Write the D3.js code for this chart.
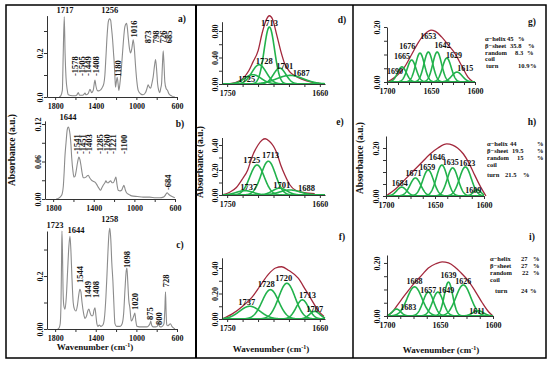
<!DOCTYPE html>
<html>
<head>
<meta charset="utf-8">
<script src="https://cdn.jsdelivr.net/npm/d3@7/dist/d3.min.js"></script>
<style>
  body { margin: 0; background: #fff; }
  svg { display: block; }
</style>
</head>
<body>
<div id="fig"></div>
<script>
const FONT = '"Liberation Serif", "Times New Roman", serif';
const GREY = "#8c8c8c", GREEN = "#22b24c", RED = "#a3283c", INK = "#111";

// full spectra, [wavenumber, absorbance]
const specA = [[1760,0],[1745,0.005],[1729,0.03],[1720,0.2],[1710,0.365],[1702,0.2],[1693,0.09],[1680,0.03],[1670,0.01],[1630,0.006],[1600,0.006],[1585,0.01],[1572,0.02],[1560,0.008],[1530,0.008],[1515,0.013],[1506,0.018],[1495,0.01],[1475,0.015],[1457,0.035],[1440,0.02],[1425,0.03],[1415,0.06],[1408,0.077],[1398,0.05],[1385,0.03],[1370,0.028],[1359,0.03],[1340,0.04],[1320,0.062],[1310,0.1],[1300,0.18],[1288,0.28],[1277,0.34],[1265,0.355],[1254,0.35],[1244,0.31],[1234,0.26],[1225,0.2],[1218,0.155],[1210,0.08],[1205,0.045],[1197,0.07],[1189,0.09],[1180,0.06],[1172,0.03],[1160,0.07],[1146,0.14],[1130,0.24],[1113,0.32],[1096,0.335],[1088,0.31],[1080,0.27],[1068,0.22],[1057,0.2],[1045,0.22],[1031,0.26],[1020,0.22],[1008,0.14],[995,0.07],[982,0.03],[960,0.015],[933,0.01],[910,0.02],[895,0.04],[884,0.055],[872,0.045],[860,0.04],[848,0.06],[835,0.09],[822,0.14],[811,0.17],[800,0.12],[791,0.06],[780,0.03],[769,0.02],[760,0.04],[752,0.06],[744,0.14],[736,0.21],[728,0.15],[720,0.07],[708,0.04],[693,0.03],[680,0.015],[670,0.01],[650,0.004],[621,0]];

const specB = [[1770,0],[1749,0.001],[1716,0.006],[1700,0.02],[1693,0.038],[1683,0.07],[1673,0.09],[1660,0.112],[1651,0.115],[1642,0.112],[1634,0.104],[1625,0.088],[1617,0.066],[1605,0.045],[1595,0.035],[1585,0.036],[1575,0.043],[1560,0.058],[1546,0.067],[1536,0.063],[1526,0.054],[1515,0.042],[1503,0.034],[1490,0.034],[1477,0.035],[1465,0.037],[1454,0.038],[1440,0.034],[1421,0.03],[1400,0.028],[1388,0.027],[1370,0.023],[1356,0.019],[1340,0.015],[1332,0.014],[1320,0.018],[1307,0.022],[1290,0.026],[1280,0.029],[1268,0.026],[1257,0.026],[1245,0.028],[1234,0.029],[1220,0.026],[1208,0.026],[1195,0.03],[1182,0.035],[1170,0.022],[1159,0.014],[1140,0.013],[1126,0.014],[1115,0.018],[1103,0.022],[1090,0.015],[1077,0.01],[1050,0.007],[1027,0.005],[970,0.004],[913,0.003],[850,0.003],[790,0.002],[750,0.002],[715,0.003],[700,0.005],[688,0.008],[677,0.01],[665,0.008],[651,0.006],[630,0.004],[602,0.002]];

const specC = [[1775,0],[1760,0.005],[1750,0.02],[1742,0.1],[1737,0.25],[1733,0.37],[1728,0.3],[1722,0.15],[1715,0.09],[1703,0.075],[1690,0.12],[1677,0.22],[1665,0.31],[1654,0.35],[1645,0.3],[1635,0.2],[1622,0.1],[1610,0.075],[1595,0.068],[1580,0.09],[1567,0.13],[1556,0.15],[1546,0.14],[1535,0.1],[1520,0.06],[1506,0.04],[1490,0.05],[1477,0.07],[1467,0.075],[1455,0.06],[1440,0.05],[1428,0.05],[1418,0.07],[1408,0.08],[1398,0.05],[1389,0.02],[1379,0.01],[1365,0.015],[1350,0.01],[1330,0.015],[1315,0.04],[1300,0.12],[1290,0.2],[1280,0.29],[1270,0.36],[1261,0.38],[1252,0.34],[1242,0.25],[1231,0.18],[1222,0.1],[1211,0.02],[1195,0.01],[1160,0.01],[1140,0.02],[1125,0.06],[1112,0.15],[1100,0.22],[1093,0.23],[1085,0.18],[1075,0.11],[1064,0.08],[1050,0.03],[1040,0.035],[1025,0.05],[1015,0.06],[1005,0.03],[995,0.01],[970,0.008],[930,0.008],[900,0.008],[880,0.012],[867,0.02],[858,0.03],[850,0.015],[835,0.008],[810,0.008],[795,0.01],[780,0.02],[772,0.01],[760,0.008],[740,0.012],[728,0.02],[720,0.07],[713,0.14],[707,0.06],[700,0.015],[690,0.012],[680,0.015],[665,0.02],[650,0.01],[635,0.004],[620,0]];

// peak labels: [text, wavenumber, absorbance at the text foot]
const peaksA = [["1717",1703,0.382],["1256",1261,0.382]];
const tagsA = [["-1578",1605,0.095],["-1505",1539,0.095],["-1449",1474,0.095],["-1408",1398,0.095],["1180",1179,0.092],["1016",1025,0.27],["873",884,0.244],["798",811,0.244],["726",742,0.244],["685",677,0.244]];
const peaksB = [["1644",1654,0.126]];
const tagsB = [["-1541",1565,0.072],["-1451",1506,0.072],["-1403",1447,0.072],["-1285",1335,0.072],["-1260",1272,0.072],["-1221",1213,0.072],["-1100",1103,0.072],["-684",671,0.0144]];
const peaksC = [["1723",1801,0.381],["1644",1595,0.362],["1258",1261,0.404]];
const tagsC = [["1544",1556,0.174],["1449",1477,0.117],["1408",1398,0.117],["1098",1093,0.23],["1020",1015,0.072],["875",867,0.034],["800",779,0.015],["728",710,0.158]];

// fitted bands: [centre, height, width]; measured envelopes: [wavenumber, absorbance]
const bandsD = [[1725,0.14,8],[1719,0.29,7],[1709,0.86,5],[1699,0.24,6],[1689,0.13,13]];
const envD = [[1750,0],[1742,0.02],[1735,0.08],[1729,0.2],[1725,0.33],[1720,0.5],[1716,0.77],[1712,0.97],[1709,1.03],[1706,0.98],[1702,0.75],[1698,0.5],[1694,0.3],[1689,0.18],[1684,0.12],[1677,0.07],[1668,0.03],[1660,0.01]];
const peaksD = [["1713",1709,0.88],["1728",1714,0.3],["1701",1694,0.226],["1687",1678,0.12],["1725",1731,0.03]];

const bandsE = [[1733,0.035,8],[1721,0.24,7],[1710,0.27,7],[1699,0.055,7],[1689,0.04,10]];
const envE = [[1755,0],[1748,0.02],[1741,0.06],[1735,0.13],[1730,0.2],[1726,0.3],[1720,0.4],[1716,0.44],[1713,0.45],[1709,0.43],[1705,0.39],[1702,0.34],[1698,0.24],[1694,0.16],[1689,0.08],[1684,0.04],[1676,0.02],[1665,0.01]];
const peaksE = [["1725",1726,0.256],["1713",1708,0.296],["1737",1729,0.04],["1701",1697,0.056],["1688",1673,0.032]];

const bandsF = [[1728,0.10,10],[1708,0.23,8],[1692,0.28,8],[1677,0.15,6],[1665,0.06,5]];
const envF = [[1755,0],[1745,0.04],[1735,0.1],[1726,0.17],[1718,0.26],[1710,0.35],[1703,0.4],[1697,0.41],[1690,0.38],[1681,0.32],[1674,0.23],[1668,0.15],[1662,0.07],[1656,0.02]];
const peaksF = [["1737",1731,0.11],["1728",1712,0.251],["1720",1695,0.298],["1713",1672,0.165],["1707",1665,0.055]];

const bandsG = [[1683,0.055,5],[1672,0.08,5],[1662.5,0.105,5],[1653,0.109,5],[1643,0.109,5],[1632,0.087,5],[1620.5,0.036,6]];
const envG = [[1700,0],[1692,0.015],[1685,0.035],[1680,0.055],[1672,0.1],[1666,0.135],[1660,0.164],[1655,0.18],[1650,0.189],[1645,0.184],[1638,0.164],[1630,0.133],[1623,0.105],[1615,0.058],[1608,0.018],[1602,0]];
const peaksG = [["1653",1653,0.155],["1676",1677,0.12],["1642",1637,0.122],["1665",1683,0.085],["1629",1624,0.088],["1690",1691,0.029],["1615",1611,0.04]];

const bandsH = [[1684,0.037,5],[1670,0.075,5.5],[1657,0.108,5.5],[1643,0.129,5.5],[1632,0.117,5.5],[1619,0.121,6],[1607,0.025,4]];
const envH = [[1700,0],[1690,0.03],[1681,0.067],[1672,0.105],[1663,0.142],[1655,0.175],[1647,0.2],[1638,0.217],[1632,0.212],[1627,0.2],[1621,0.175],[1616,0.142],[1611,0.1],[1606,0.058],[1601,0.02],[1598,0]];
const peaksH = [["1646",1648,0.15],["1635",1634,0.129],["1623",1617,0.125],["1659",1658,0.108],["1671",1672,0.083],["1684",1686,0.042],["1609",1611,0.0125]];

const bandsI = [[1691,0.026,4],[1674,0.11,7],[1661,0.09,5],[1652,0.09,5],[1642,0.128,4],[1628,0.117,7],[1614,0.02,5]];
const envI = [[1700,0],[1695,0.015],[1690,0.042],[1682,0.085],[1674,0.125],[1667,0.155],[1661,0.181],[1654,0.197],[1648,0.204],[1642,0.2],[1636,0.185],[1630,0.162],[1624,0.136],[1617,0.095],[1610,0.049],[1604,0.015],[1600,0]];
const peaksI = [["1668",1674,0.121],["1657",1661,0.087],["1649",1644,0.087],["1639",1642,0.145],["1626",1628,0.121],["1683",1680,0.023],["1611",1615,0.008]];

// secondary structure (%)
const structG = [["α−helix","45"],["β−sheet","35.8"],["random","8.3"],["coil",""],["turn","10.9"]];
const structH = [["α−helix","44"],["β−sheet","19.5"],["random","15"],["coil",""],["turn","21.5"]];
const structI = [["α−helix","27"],["β−sheet","27"],["random","22"],["coil",""],["turn","24"]];

// ticks
const xTicksWide = [1800,1600,1400,1200,1000,800,600];
const xLabelsWide = [1800,1400,1000,600];
const xTicksAmide = [1750,1735,1720,1705,1690,1675,1660];
const xLabelsAmide = [1750,1660];
const xTicksAmideI = [1700,1687.5,1675,1662.5,1650,1637.5,1625,1612.5,1600];
const xLabelsAmideI = [1700,1650,1600];

const svg = d3.select("#fig").append("svg")
  .attr("width", 550).attr("height", 365)
  .style("font-family", FONT).style("font-weight", "bold");

svg.append("rect").attr("x", 6).attr("y", 5).attr("width", 540).attr("height", 353)
  .attr("fill", "none").attr("stroke", "#000").attr("stroke-width", 1.5);
svg.append("line").attr("x1", 196).attr("x2", 196).attr("y1", 5).attr("y2", 358)
  .attr("stroke", "#000").attr("stroke-width", 2);
svg.append("line").attr("x1", 353).attr("x2", 353).attr("y1", 5).attr("y2", 358)
  .attr("stroke", "#000").attr("stroke-width", 1.5);

function styleAxis(sel) {
  sel.attr("font-family", null).attr("font-size", 8);
  sel.select(".domain").attr("stroke", "#333");
  sel.selectAll(".tick line").attr("stroke", "#333");
  sel.selectAll(".tick text").attr("fill", INK);
}

function drawPanel(p) {
  const x = d3.scaleLinear().domain(p.xd).range(p.xr);
  const y = d3.scaleLinear().domain(p.yd).range(p.yr);
  const g = svg.append("g");

  const line = d3.line().x(d => x(d[0])).y(d => y(d[1]));

  if (p.spec) {
    g.append("path").datum(p.spec)
      .attr("d", line.curve(d3.curveMonotoneX))
      .attr("fill", "none").attr("stroke", GREY).attr("stroke-width", 1.1);
  }
  if (p.env) {
    g.append("path").datum(p.env)
      .attr("d", line.curve(d3.curveMonotoneX))
      .attr("fill", "none").attr("stroke", RED).attr("stroke-width", 1.3);
  }
  if (p.bands) {
    const lo = Math.min(...p.xd), hi = Math.max(...p.xd);
    const lin = d3.line().x(d => x(d[0])).y(d => y(d[1]));
    p.bands.forEach(([c, h, s]) => {
      const pts = d3.range(lo, hi + 0.001, 0.25)
        .map(w => [w, h * Math.exp(-0.5 * ((w - c) / s) ** 2)]);
      g.append("path").datum(pts).attr("d", lin)
        .attr("fill", "none").attr("stroke", GREEN).attr("stroke-width", 1.6);
    });
  }

  g.append("g").attr("transform", `translate(0,${p.yr[0]})`)
    .call(d3.axisBottom(x).tickValues(p.xTicks).tickSize(3).tickSizeOuter(0)
      .tickFormat(d => p.xLabels.includes(d) ? d : ""))
    .call(styleAxis);

  const ya = g.append("g").attr("transform", `translate(${p.xr[0]},0)`)
    .call(d3.axisLeft(y).tickValues(p.yTicks).tickSize(3).tickSizeOuter(0)
      .tickFormat(d => {
        const i = p.yLabels.findIndex(v => Math.abs(v - d) < 1e-9);
        return i < 0 ? "" : p.yText[i];
      }))
    .call(styleAxis);
  ya.selectAll(".tick text")
    .attr("x", 0).attr("dy", "0.35em").attr("text-anchor", "middle")
    .attr("transform", `translate(${-p.yOff},0) rotate(-90)`);

  const fs = p.peakSize || 8.5;
  (p.peaks || []).forEach(([t, w, a]) => {
    g.append("text").attr("x", x(w)).attr("y", y(a))
      .attr("text-anchor", "middle").attr("font-size", fs).attr("fill", INK).text(t);
  });
  (p.tags || []).forEach(([t, w, a]) => {
    g.append("text").attr("transform", `translate(${x(w)},${y(a)}) rotate(-90)`)
      .attr("dy", "0.35em").attr("font-size", 8.5).attr("fill", INK).text(t);
  });

  g.append("text").attr("x", p.letter[1]).attr("y", p.letter[2])
    .attr("text-anchor", "middle").attr("font-size", 9.5).attr("fill", INK).text(p.letter[0]);

  if (p.struct) {
    const s = p.struct;
    s.rows.forEach((r, i) => {
      const t = g.append("text").attr("y", s.ys[i]).attr("font-size", 6.5).attr("fill", INK);
      t.append("tspan").attr("x", s.x0 + (r[0] === "turn" ? s.turnDx : 0)).text(r[0]);
      if (r[1]) {
        t.append("tspan").attr("x", s.nx[i]).text(r[1]);
        t.append("tspan").attr("x", s.px[i]).text("%");
      }
    });
  }
}

const col1 = { xd: [1880, 600], xTicks: xTicksWide, xLabels: xLabelsWide, yOff: 7 };
const col2 = { xd: [1755, 1655], xr: [222, 325], xTicks: xTicksAmide, xLabels: xLabelsAmide, yOff: 7 };
const col3 = { xd: [1700, 1600], xTicks: xTicksAmideI, xLabels: xLabelsAmideI, yOff: 10, peakSize: 8 };

const panels = [
  { ...col1, xr: [47, 177], yd: [0, 0.37], yr: [97, 15.6], yTicks: [0, 0.1, 0.2, 0.3],
    yLabels: [0, 0.2], yText: ["0.0", "0.2"], spec: specA, peaks: peaksA, tags: tagsA, letter: ["a)", 182, 22] },
  { ...col1, xr: [45, 175], yd: [0, 0.125], yr: [199, 120.9], yTicks: [0, 0.03, 0.06, 0.09, 0.12],
    yLabels: [0, 0.06, 0.12], yText: ["0.00", "0.06", "0.12"], spec: specB, peaks: peaksB, tags: tagsB, letter: ["b)", 180, 127] },
  { ...col1, xr: [47, 177], yd: [0, 0.37], yr: [329, 231], yTicks: [0, 0.1, 0.2, 0.3],
    yLabels: [0, 0.2], yText: ["0.00", "0.2"], spec: specC, peaks: peaksC, tags: tagsC, letter: ["c)", 180, 248] },
  { ...col2, yd: [0, 0.94], yr: [84, 21.7], yTicks: [0, 0.2, 0.4, 0.6, 0.8],
    yLabels: [0, 0.4, 0.8], yText: ["0.00", "0.40", "0.80"], env: envD, bands: bandsD, peaks: peaksD, letter: ["d)", 342, 23] },
  { ...col2, yd: [0, 0.46], yr: [195, 137.5], yTicks: [0, 0.1, 0.2, 0.3, 0.4],
    yLabels: [0, 0.2, 0.4], yText: ["0.00", "0.20", "0.40"], env: envE, bands: bandsE, peaks: peaksE, letter: ["e)", 340, 125] },
  { ...col2, yd: [0, 0.48], yr: [319, 257.8], yTicks: [0, 0.1, 0.2, 0.3, 0.4],
    yLabels: [0, 0.2, 0.4], yText: ["0.00", "0.20", "0.40"], env: envF, bands: bandsF, peaks: peaksF, letter: ["f)", 342, 240] },
  { ...col3, xr: [387, 475], yd: [0, 0.2], yr: [82, 27], yTicks: [0, 0.05, 0.1, 0.15, 0.2],
    yLabels: [0, 0.2], yText: ["0.00", "0.20"], env: envG, bands: bandsG, peaks: peaksG, letter: ["g)", 532, 25],
    struct: { rows: structG, x0: 485, turnDx: 1, ys: [40.5, 47.5, 54.5, 61, 67.5],
      nx: [507, 510, 515, 0, 518], px: [518, 528, 527, 0, 530] } },
  { ...col3, xr: [386, 484], yd: [0, 0.25], yr: [196, 136], yTicks: [0, 0.05, 0.1, 0.15, 0.2],
    yLabels: [0, 0.2], yText: ["0.00", "0.20"], env: envH, bands: bandsH, peaks: peaksH, letter: ["h)", 532, 125],
    struct: { rows: structH, x0: 487, turnDx: 0, ys: [145.5, 152.5, 159.5, 166.5, 177],
      nx: [510, 512, 517, 0, 505], px: [537, 537, 537, 0, 523] } },
  { ...col3, xr: [387, 493], yd: [0, 0.23], yr: [316, 255], yTicks: [0, 0.05, 0.1, 0.15, 0.2],
    yLabels: [0, 0.2], yText: ["0.00", "0.20"], env: envI, bands: bandsI, peaks: peaksI, letter: ["i)", 532, 240],
    struct: { rows: structI, x0: 490, turnDx: 5, ys: [260.5, 267.5, 274.5, 281.5, 293],
      nx: [521, 521, 522, 0, 521], px: [533, 533, 533, 0, 530] } }
];

panels.forEach(drawPanel);

// axis titles
[[12, 150], [200, 162], [360, 158]].forEach(([cx, cy]) => {
  svg.append("text").attr("transform", `translate(${cx},${cy}) rotate(-90)`)
    .attr("dy", "0.35em").attr("text-anchor", "middle")
    .attr("font-size", 9.5).attr("fill", INK).text("Absorbance (a.u.)");
});
[[95, 350], [271, 352], [441, 353]].forEach(([cx, cy]) => {
  const t = svg.append("text").attr("x", cx).attr("y", cy)
    .attr("text-anchor", "middle").attr("font-size", 9).attr("fill", INK);
  t.append("tspan").text("Wavenumber (cm");
  t.append("tspan").attr("font-size", 6).attr("dy", -3.5).text("-1");
  t.append("tspan").attr("dy", 3.5).text(")");
});
</script>
</body>
</html>
